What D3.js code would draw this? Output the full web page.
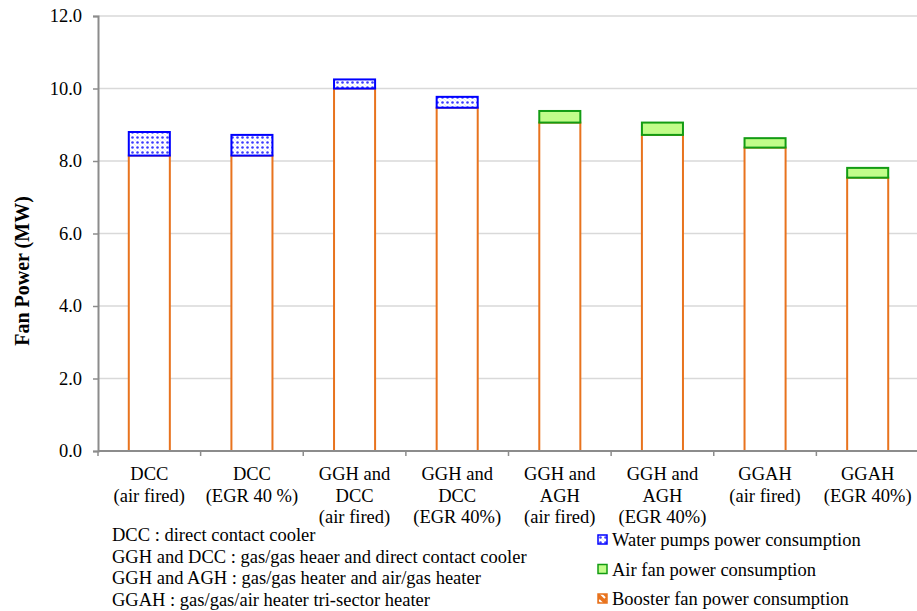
<!DOCTYPE html>
<html>
<head>
<meta charset="utf-8">
<script src="https://cdn.jsdelivr.net/npm/d3@7"></script>
<style>
  body { margin: 0; background: #fff; }
</style>
</head>
<body>
<script>
//chart values
var categories = [
    ["DCC", "(air fired)"],
    ["DCC", "(EGR 40 %)"],
    ["GGH and", "DCC", "(air fired)"],
    ["GGH and", "DCC", "(EGR 40%)"],
    ["GGH and", "AGH", "(air fired)"],
    ["GGH and", "AGH", "(EGR 40%)"],
    ["GGAH", "(air fired)"],
    ["GGAH", "(EGR 40%)"]
];
var boosterFan = [8.15, 8.15, 10.0, 9.47, 9.06, 8.72, 8.37, 7.54];
var airFan = [0, 0, 0, 0, 0.32, 0.34, 0.26, 0.27];
var waterPumps = [0.65, 0.57, 0.25, 0.30, 0, 0, 0, 0];
var yTicks = [0, 2, 4, 6, 8, 10, 12];
var footnotes = [
    "DCC : direct contact cooler",
    "GGH and DCC : gas/gas heaer and direct contact cooler",
    "GGH and AGH : gas/gas heater and air/gas heater",
    "GGAH : gas/gas/air heater tri-sector heater"
];
var legendItems = [
    { key: "water", label: "Water pumps power consumption" },
    { key: "air", label: "Air fan power consumption" },
    { key: "booster", label: "Booster fan power consumption" }
];

var FONT = "'Liberation Serif', 'Times New Roman', serif";

window.onload = drawChart();

function drawChart() {
    var width = 917,
        height = 611;

    var svg = d3.select("body")
        .append("svg")
        .attr("width", width)
        .attr("height", height)
        .style("font-family", FONT);

    //patterns for the dotted and hatched fills
    var defs = svg.append("defs");
    var dots = defs.append("pattern")
        .attr("id", "dots")
        .attr("patternUnits", "userSpaceOnUse")
        .attr("width", 5).attr("height", 5);
    dots.append("rect").attr("width", 5).attr("height", 5).attr("fill", "#fff");
    dots.append("circle").attr("cx", 2.5).attr("cy", 2.5).attr("r", 1.3).attr("fill", "#3b3bff");
    dots.append("circle").attr("cx", 0).attr("cy", 0).attr("r", 0.7).attr("fill", "#b8b8ff");
    dots.append("circle").attr("cx", 5).attr("cy", 5).attr("r", 0.7).attr("fill", "#b8b8ff");

    var hatch = defs.append("pattern")
        .attr("id", "hatch")
        .attr("patternUnits", "userSpaceOnUse")
        .attr("width", 8).attr("height", 8);
    hatch.append("rect").attr("width", 8).attr("height", 8).attr("fill", "#e8731e");
    hatch.append("path").attr("d", "M1,1 L7,7").attr("stroke", "#fff").attr("stroke-width", 2);

    var rows = boosterFan.map(function (d, i) {
        return { cat: i, booster: d, air: airFan[i], water: waterPumps[i] };
    });

    var x = d3.scaleBand()
        .domain(d3.range(categories.length))
        .range([98, 919]);

    var y = d3.scaleLinear()
        .domain([0, 12])
        .range([451, 16]);

    //gridlines
    svg.append("g")
        .selectAll("line")
        .data(yTicks.filter(function (d) { return d > 0; }))
        .join("line")
        .attr("x1", 98).attr("x2", 919)
        .attr("y1", function (d) { return y(d); })
        .attr("y2", function (d) { return y(d); })
        .attr("stroke", "#d9d9d9")
        .attr("stroke-width", 1.5);

    //stacked bars
    var stack = d3.stack().keys(["booster", "air", "water"]);
    var series = stack(rows);
    var styles = {
        booster: { fill: "#fff", stroke: "#e8731e" },
        air: { fill: "#c2fd8a", stroke: "#139c13" },
        water: { fill: "url(#dots)", stroke: "#0000ff" }
    };
    var barW = x.bandwidth() * 0.4;

    svg.append("g")
        .selectAll("g")
        .data(series)
        .join("g")
        .each(function (s) {
            d3.select(this).selectAll("rect")
                .data(s.filter(function (d) { return d[1] - d[0] > 0; }))
                .join("rect")
                .attr("x", function (d) { return x(d.data.cat) + (x.bandwidth() - barW) / 2; })
                .attr("y", function (d) { return y(d[1]); })
                .attr("width", barW)
                .attr("height", function (d) { return y(d[0]) - y(d[1]); })
                .attr("fill", styles[s.key].fill)
                .attr("stroke", styles[s.key].stroke)
                .attr("stroke-width", 2);
        });

    //y axis
    var yAxis = d3.axisLeft(y)
        .tickValues(yTicks)
        .tickFormat(d3.format(".1f"))
        .tickSize(5)
        .tickPadding(11);
    var yG = svg.append("g")
        .attr("transform", "translate(98,0)")
        .call(yAxis)
        .attr("font-family", FONT)
        .attr("font-size", 18.5);
    yG.select(".domain").attr("stroke", "#8c8c8c").attr("stroke-width", 2);
    yG.selectAll(".tick line").attr("stroke", "#8c8c8c").attr("stroke-width", 1.5);
    yG.selectAll(".tick text").attr("fill", "#000");

    //x axis line and category separators
    svg.append("line")
        .attr("x1", 98).attr("x2", 919)
        .attr("y1", y(0)).attr("y2", y(0))
        .attr("stroke", "#8c8c8c").attr("stroke-width", 2);
    svg.append("g")
        .selectAll("line")
        .data(d3.range(categories.length + 1))
        .join("line")
        .attr("x1", function (d) { return 98 + d * x.step(); })
        .attr("x2", function (d) { return 98 + d * x.step(); })
        .attr("y1", y(0)).attr("y2", y(0) + 5)
        .attr("stroke", "#8c8c8c").attr("stroke-width", 1.5);

    //category labels
    svg.append("g")
        .selectAll("text")
        .data(categories)
        .join("text")
        .attr("text-anchor", "middle")
        .attr("font-size", 18.5)
        .attr("x", function (d, i) { return x(i) + x.bandwidth() / 2; })
        .attr("y", 480)
        .selectAll("tspan")
        .data(function (d) { return d; })
        .join("tspan")
        .attr("x", function () { return d3.select(this.parentNode).attr("x"); })
        .attr("dy", function (d, i) { return i === 0 ? 0 : 21.7; })
        .text(function (d) { return d; });

    //axis title
    svg.append("text")
        .attr("transform", "translate(29,271) rotate(-90)")
        .attr("text-anchor", "middle")
        .attr("font-size", 20)
        .attr("font-weight", "bold")
        .text("Fan Power (MW)");

    //abbreviation notes
    svg.append("g")
        .selectAll("text")
        .data(footnotes)
        .join("text")
        .attr("x", 112)
        .attr("y", function (d, i) { return 541 + i * 21.5; })
        .attr("font-size", 18.5)
        .text(function (d) { return d; });

    //legend
    var legendFill = { water: "url(#dots)", air: "#c2fd8a", booster: "url(#hatch)" };
    var legendStroke = { water: "#0000ff", air: "#139c13", booster: "#e8731e" };
    var legend = svg.append("g")
        .selectAll("g")
        .data(legendItems)
        .join("g")
        .attr("transform", function (d, i) { return "translate(598," + (540 + i * 29.5) + ")"; });
    legend.append("rect")
        .attr("x", 0).attr("y", -5)
        .attr("width", 9).attr("height", 9)
        .attr("fill", function (d) { return legendFill[d.key]; })
        .attr("stroke", function (d) { return legendStroke[d.key]; })
        .attr("stroke-width", 1.5);
    legend.append("text")
        .attr("x", 14)
        .attr("y", 6)
        .attr("font-size", 18.5)
        .text(function (d) { return d.label; });
}
</script>
</body>
</html>
